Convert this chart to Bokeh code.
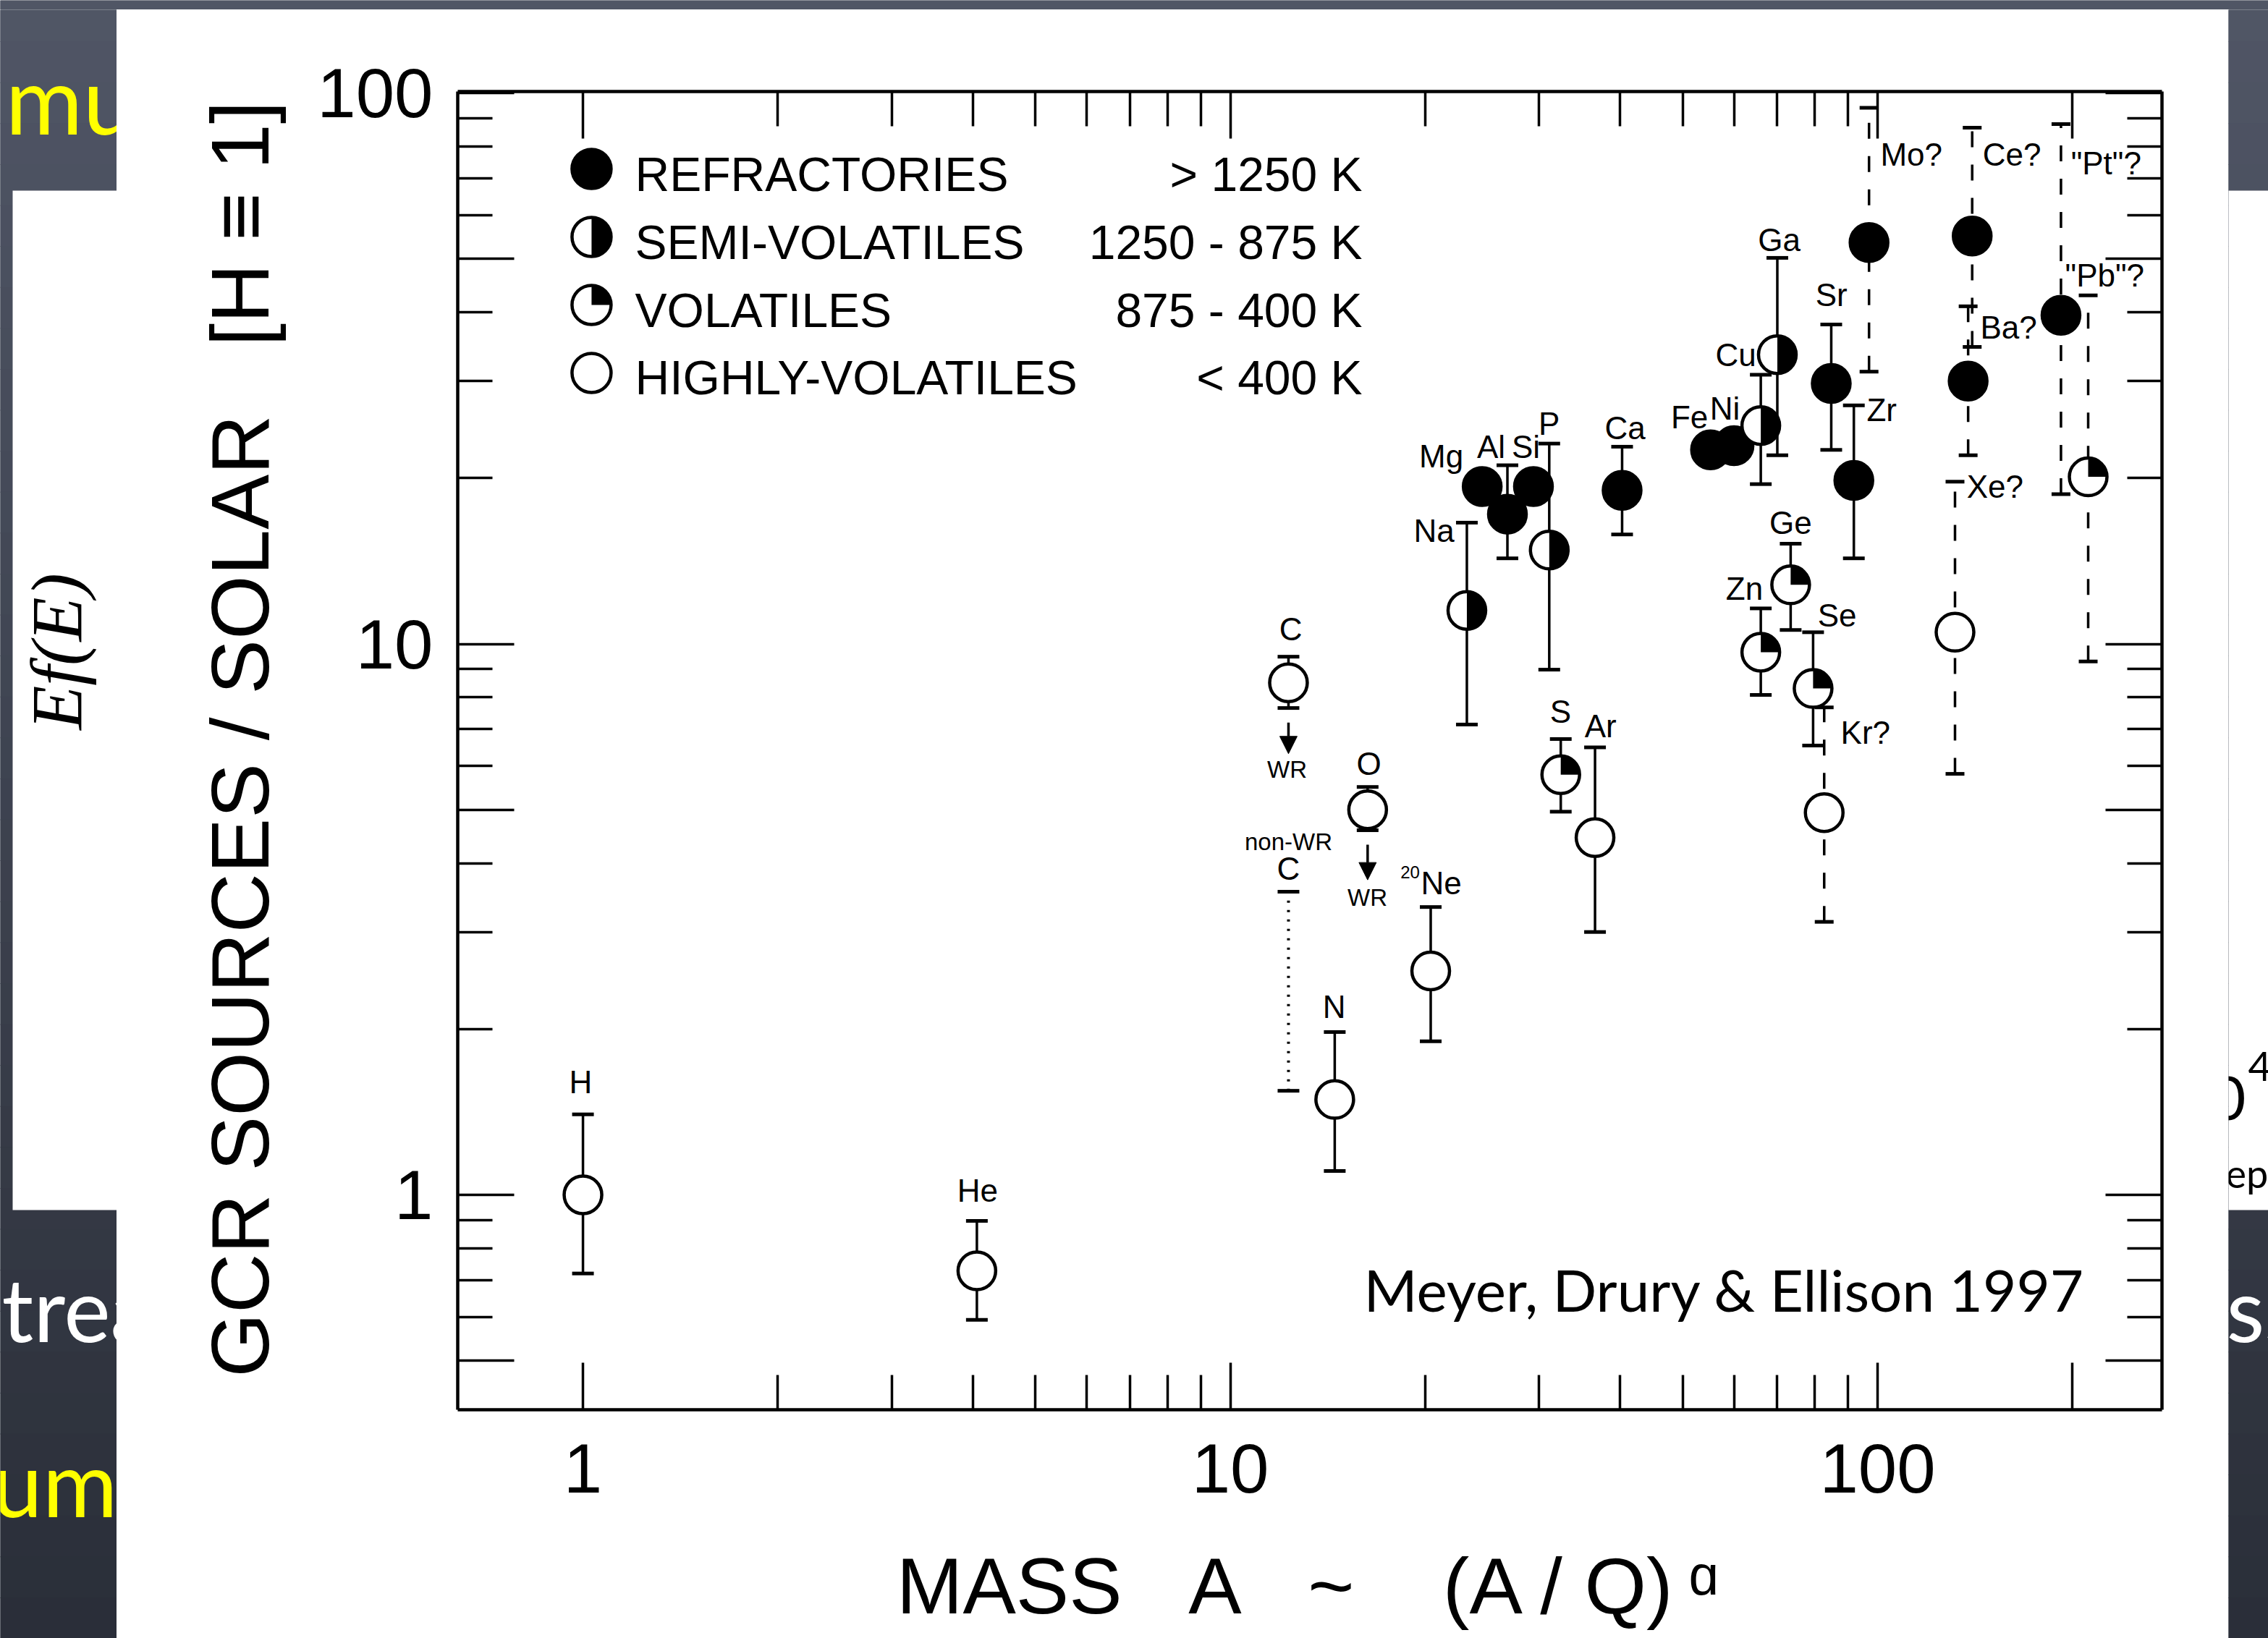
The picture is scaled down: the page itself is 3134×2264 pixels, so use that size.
import math
from bokeh.plotting import figure
from bokeh.layouts import column, row
from bokeh.models import (Plot, Range1d, LogAxis, FixedTicker, CustomJSTickFormatter,
                          Label, ColumnDataSource, Arrow, NormalHead)
from bokeh.embed import file_html
from bokeh.resources import INLINE
from bokeh.core.properties import value

nan = float("nan")

# ---------------- data ----------------
elements = ["H", "He", "C", "N", "O", "Ne", "Na", "Mg", "Al", "Si", "P", "S", "Ar", "Ca", "Fe", "Ni",
            "Cu", "Zn", "Ga", "Ge", "Se", "Kr", "Sr", "Zr", "Mo", "Xe", "Ba", "Ce", "Pt", "Pb"]
mass = [1.0, 4.06, 12.3, 14.5, 16.3, 20.4, 23.2, 24.5, 26.8, 29.4, 31.1, 32.4, 36.6, 40.3, 55.2, 60.0,
        66.0, 66.0, 70.0, 73.4, 79.5, 82.7, 84.8, 91.9, 97.0, 131.7, 138.0, 140.0, 192.0, 211.5]
ratio = [1.0, 0.728, 8.50, 1.49, 5.00, 2.55, 11.5, 19.3, 17.2, 19.3, 14.8, 5.79, 4.45, 19.0, 22.5, 22.9,
         24.9, 9.66, 33.5, 12.8, 8.30, 4.94, 29.7, 19.8, 53.5, 10.5, 30.0, 55.0, 39.5, 20.1]
err_lo = [0.72, 0.593, 7.65, 1.105, 4.59, 1.90, 7.14, nan, 14.3, nan, 8.98, 4.96, 3.0, 15.8, nan, nan,
          19.5, 8.08, 22.0, 10.6, 6.54, 3.13, 22.5, 14.3, 31.2, 5.81, 22.0, 34.6, 18.7, 9.29]
err_hi = [1.40, 0.897, 9.48, 1.975, 5.50, 3.33, 16.6, nan, 21.1, nan, 23.1, 6.72, 6.49, 22.8, nan, nan,
          30.8, 11.6, 50.2, 15.2, 10.5, 7.67, 38.0, 27.1, 94.0, 19.7, 41.0, 86.5, 87.8, 42.9]
volatility = ["hv", "hv", "hv", "hv", "hv", "hv", "semi", "ref", "ref", "ref", "semi", "vol", "hv", "ref",
              "ref", "ref", "semi", "vol", "semi", "vol", "vol", "hv", "ref", "ref", "ref", "hv", "ref",
              "ref", "ref", "vol"]
uncertain = [False] * 21 + [True, False, False, True, True, True, True, True, True]

# non-Wolf-Rayet carbon range (dotted bar, no point)
nonwr_mass = [12.3]
nonwr_lo = [1.545]
nonwr_hi = [3.55]

# Wolf-Rayet arrows under C and O
wr_mass = [12.3, 16.3]
wr_start = [7.20, 4.32]
wr_end = [6.32, 3.73]

# element labels (centred)
lab_c_text = ["H", "He", "C", "O", "N", "Na", "Mg", "Al", "Si", "P", "S", "Ar", "Ca", "Fe", "Ni",
              "Cu", "Ga", "Sr", "Ge", "Zn", "Se", "C", "Ne"]
lab_c_x = [0.992, 4.07, 12.40, 16.37, 14.47, 20.64, 21.18, 25.29, 28.62, 31.08, 32.38, 37.32, 40.73,
           51.21, 58.08, 60.38, 70.46, 84.84, 73.4, 62.27, 86.6, 12.30, 21.18]
lab_c_y = [1.603, 1.018, 10.64, 6.06, 2.195, 16.05, 21.92, 22.80, 22.80, 25.12, 7.54, 7.10, 24.66,
           25.80, 26.76, 33.46, 54.13, 43.01, 16.6, 12.60, 11.27, 3.911, 3.681]
# element labels (left aligned)
lab_l_text = ["Zr", "Mo?", "Ce?", "\"Pt\"?", "\"Pb\"?", "Ba?", "Xe?", "Kr?"]
lab_l_x = [96.2, 101.0, 145.3, 198.9, 194.8, 144.1, 137.3, 87.7]
lab_l_y = [26.6, 77.32, 77.32, 74.56, 46.67, 37.54, 19.30, 6.905]
# small annotations
lab_s_text = ["WR", "WR", "non-WR"]
lab_s_x = [12.24, 16.29, 12.30]
lab_s_y = [5.92, 3.465, 4.374]
iso_text = ["20"]
iso_x = [18.96]
iso_y = [3.853]

# legend
legend_labels = ["REFRACTORIES", "SEMI-VOLATILES", "VOLATILES", "HIGHLY-VOLATILES"]
legend_ranges = ["> 1250 K", "1250 - 875 K", "875 - 400 K", "< 400 K"]
legend_classes = ["ref", "semi", "vol", "hv"]
leg_marker_x = [1.031, 1.031, 1.031, 1.031]
leg_marker_y = [72.80, 54.79, 41.23, 31.03]
leg_text_x = [1.2036] * 4
leg_range_x = [16.0] * 4
leg_text_y = [71.06, 53.63, 40.36, 30.38]

# axes
x_major = [1, 10, 100, 200]
x_minor = [2, 3, 4, 5, 6, 7, 8, 9, 20, 30, 40, 50, 60, 70, 80, 90]
y_major = [0.5, 1, 5, 10, 50, 100]
y_minor = [0.6, 0.7, 0.8, 0.9, 2, 3, 4, 6, 7, 8, 9, 20, 30, 40, 60, 70, 80, 90]
tick_labels = ["1", "10", "100"]
x_title = "MASS\u00a0\u00a0\u00a0A\u00a0\u00a0\u00a0~\u00a0\u00a0\u00a0\u00a0(A / Q)\u2009\u1d45"
y_title = "\u00a0GCR SOURCES / SOLAR\u00a0\u00a0\u00a0[H \u2261 1]"

# ---------------- page geometry ----------------
W, H = 3134, 2264
PX0, PY0, PX1 = 161, 13, 3079          # front (chart) panel
FL, FR, FT, FB = 632, 2987, 126, 1948  # plot frame, page pixels
BACK_X0, BACK_Y0, BACK_Y1 = 17, 263, 1672   # back slide panel
NB = 40
top_rgb = (80, 86, 102)
bot_rgb = (42, 46, 56)
band_top = [i * H / NB for i in range(NB)]
band_bot = [(i + 1) * H / NB + 1 for i in range(NB)]
band_col = []
for i in range(NB):
    t = (i + 0.5) / NB
    c = tuple(round(a + (b - a) * t) for a, b in zip(top_rgb, bot_rgb))
    band_col.append("#%02x%02x%02x" % c)

FA = {"frame_align": False} if "frame_align" in Plot.properties() else {}


def slide_piece(x0, x1, y0, y1):
    f = figure(width=x1 - x0, height=y1 - y0, x_range=Range1d(x0, x1), y_range=Range1d(y1, y0),
               output_backend="svg", toolbar_location=None, min_border=0,
               x_axis_location=None, y_axis_location=None, outline_line_color=None,
               background_fill_color=band_col[0], border_fill_color=band_col[0], **FA)
    f.grid.visible = False
    f.quad(left=[x0 - 5] * NB, right=[x1 + 5] * NB, top=band_top, bottom=band_bot,
           fill_color=band_col, line_color=None)
    return f


def slide_text(f, x, y, text, size, color, align="left", font="Lato", style="normal", angle=0.0):
    # y is the text's middle line (about the centre of the capitals)
    f.text(x=[x], y=[y], text=[text], text_font=value(font), text_font_size=f"{size}px",
           text_color=color, text_align=align, text_baseline="middle",
           text_font_style=style, angle=angle)


# top strip
top_strip = slide_piece(0, W, 0, PY0)

# left strip: dark slide, piece of the back panel, clipped slide text
left_strip = slide_piece(0, PX0, PY0, H)
left_strip.quad(left=[BACK_X0], right=[PX0 + 5], top=[BACK_Y0], bottom=[BACK_Y1],
                fill_color="white", line_color=None)
slide_text(left_strip, 78, 900, "Ef(E)", 100, "black", align="center", font="Liberation Serif",
           style="italic", angle=math.pi / 2)
slide_text(left_strip, 7, 135, "mu", 130, "#ffff00")
slide_text(left_strip, 2, 1807, "trea", 122, "white")
slide_text(left_strip, -12, 2048, "um", 126, "#ffff00")

# right strip
right_strip = slide_piece(PX1, W, PY0, H)
right_strip.quad(left=[PX1 - 5], right=[W + 5], top=[BACK_Y0], bottom=[BACK_Y1],
                 fill_color="white", line_color=None)
slide_text(right_strip, 3103, 1517, "10", 83, "black", align="right")
slide_text(right_strip, 3106, 1473, "4", 56, "black")
slide_text(right_strip, 3075, 1621, "ep", 54, "black")
slide_text(right_strip, 3076, 1807, "ss", 122, "white")

# ---------------- chart figure ----------------
p = figure(width=PX1 - PX0, height=H - PY0, x_axis_type="log", y_axis_type="log",
           x_range=Range1d(0.6405, 275.0), y_range=Range1d(0.4074, 100.6),
           output_backend="svg", toolbar_location=None,
           min_border_left=FL - PX0, min_border_right=PX1 - FR,
           min_border_top=FT - PY0, min_border_bottom=H - FB,
           background_fill_color="white", border_fill_color="white",
           outline_line_color=None, **FA)
p.grid.visible = False

fmt_code = "const L = %s; const s = String(tick); return L.includes(s) ? s : '';" % (
    "[" + ",".join("'%s'" % s for s in tick_labels) + "]")


def style_axis(ax, major, minor, maj_len, min_len, labelled):
    ax.ticker = FixedTicker(ticks=major, minor_ticks=minor)
    ax.axis_line_color = "black"
    ax.axis_line_width = 4.5
    ax.major_tick_in = maj_len
    ax.major_tick_out = 0
    ax.minor_tick_in = min_len
    ax.minor_tick_out = 0
    ax.major_tick_line_width = 3.5
    ax.minor_tick_line_width = 3.5
    ax.major_tick_line_color = "black"
    ax.minor_tick_line_color = "black"
    if labelled:
        ax.formatter = CustomJSTickFormatter(code=fmt_code)
        ax.major_label_text_font = "Liberation Sans"
        ax.major_label_text_font_size = "96px"
        ax.major_label_text_color = "black"
        ax.axis_label_text_font = "Liberation Sans"
        ax.axis_label_text_font_style = "normal"
        ax.axis_label_text_color = "black"
    else:
        ax.formatter = CustomJSTickFormatter(code="return '';")
        ax.major_label_text_font_size = "1px"


xa = p.below[0]
style_axis(xa, x_major, x_minor, 65, 48, True)
xa.major_label_standoff = 47
xa.axis_label = x_title
xa.axis_label_text_font_size = "110px"
xa.axis_label_standoff = 64

ya = p.left[0]
style_axis(ya, y_major, y_minor, 78, 48, True)
ya.major_label_standoff = 34
ya.axis_label = y_title
ya.axis_label_text_font_size = "114px"
ya.axis_label_standoff = 40

top_ax = LogAxis()
style_axis(top_ax, x_major, x_minor, 65, 48, False)
p.add_layout(top_ax, "above")
right_ax = LogAxis()
style_axis(right_ax, y_major, y_minor, 78, 48, False)
p.add_layout(right_ax, "right")

# ---------------- error bars ----------------
have_err = [i for i in range(len(elements)) if not math.isnan(err_lo[i])]
solid_idx = [i for i in have_err if not uncertain[i]]
dash_idx = [i for i in have_err if uncertain[i]]


def sub(lst, idx):
    return [lst[i] for i in idx]


p.segment(x0=sub(mass, solid_idx), y0=sub(err_lo, solid_idx),
          x1=sub(mass, solid_idx), y1=sub(err_hi, solid_idx),
          line_color="black", line_width=3.5)
p.segment(x0=sub(mass, dash_idx), y0=sub(err_lo, dash_idx),
          x1=sub(mass, dash_idx), y1=sub(err_hi, dash_idx),
          line_color="black", line_width=3.5, line_dash="22 24")
p.segment(x0=nonwr_mass, y0=nonwr_lo, x1=nonwr_mass, y1=nonwr_hi,
          line_color="black", line_width=4, line_dash="3 10")

cap_x = sub(mass, solid_idx) * 2 + nonwr_mass * 2
cap_y = sub(err_lo, solid_idx) + sub(err_hi, solid_idx) + nonwr_lo + nonwr_hi
p.scatter(x=cap_x, y=cap_y, marker="dash", size=30, line_color="black", line_width=5)
p.scatter(x=sub(mass, dash_idx) * 2, y=sub(err_lo, dash_idx) + sub(err_hi, dash_idx),
          marker="dash", size=26, line_color="black", line_width=5)

# ---------------- markers ----------------
fill_of = {"ref": "black", "semi": "white", "vol": "white", "hv": "white"}
MS = 52
p.scatter(x=mass, y=ratio, marker="circle", size=MS,
          fill_color=[fill_of[v] for v in volatility], line_color="black", line_width=4.5)
semi_idx = [i for i, v in enumerate(volatility) if v == "semi"]
vol_idx = [i for i, v in enumerate(volatility) if v == "vol"]
p.wedge(x=sub(mass, semi_idx), y=sub(ratio, semi_idx), radius=MS / 2, radius_units="screen",
        start_angle=-math.pi / 2, end_angle=math.pi / 2, fill_color="black", line_color=None)
p.wedge(x=sub(mass, vol_idx), y=sub(ratio, vol_idx), radius=MS / 2, radius_units="screen",
        start_angle=0, end_angle=math.pi / 2, fill_color="black", line_color=None)

# WR arrows
p.add_layout(Arrow(end=NormalHead(size=24, fill_color="black", line_color="black", line_width=1),
                   x_start="x", y_start="y0", x_end="x", y_end="y1",
                   source=ColumnDataSource(dict(x=wr_mass, y0=wr_start, y1=wr_end)),
                   line_color="black", line_width=3.5))

# ---------------- element labels ----------------
p.text(x=lab_c_x, y=lab_c_y, text=lab_c_text, text_font=value("Liberation Sans"),
       text_font_size="44px", text_align="center", text_baseline="middle", text_color="black")
p.text(x=lab_l_x, y=lab_l_y, text=lab_l_text, text_font=value("Liberation Sans"),
       text_font_size="44px", text_align="left", text_baseline="middle", text_color="black")
p.text(x=lab_s_x, y=lab_s_y, text=lab_s_text, text_font=value("Liberation Sans"),
       text_font_size="33px", text_align="center", text_baseline="middle", text_color="black")
p.text(x=iso_x, y=iso_y, text=iso_text, text_font=value("Liberation Sans"),
       text_font_size="24px", text_align="center", text_baseline="middle", text_color="black")

# ---------------- legend ----------------
LMS = 54
p.scatter(x=leg_marker_x, y=leg_marker_y, marker="circle", size=LMS,
          fill_color=[fill_of[c] for c in legend_classes], line_color="black", line_width=4.5)
p.wedge(x=[leg_marker_x[1]], y=[leg_marker_y[1]], radius=LMS / 2, radius_units="screen",
        start_angle=-math.pi / 2, end_angle=math.pi / 2, fill_color="black", line_color=None)
p.wedge(x=[leg_marker_x[2]], y=[leg_marker_y[2]], radius=LMS / 2, radius_units="screen",
        start_angle=0, end_angle=math.pi / 2, fill_color="black", line_color=None)
p.text(x=leg_text_x, y=leg_text_y, text=legend_labels, text_font=value("Liberation Sans"),
       text_font_size="66px", text_align="left", text_baseline="middle", text_color="black")
p.text(x=leg_range_x, y=leg_text_y, text=legend_ranges, text_font=value("Liberation Sans"),
       text_font_size="66px", text_align="right", text_baseline="middle", text_color="black")

# citation (inside the frame)
p.add_layout(Label(x=1884 - FL, y=FB - 1781, x_units="screen", y_units="screen",
                   text="Meyer, Drury & Ellison 1997", text_font="Lato", text_font_size="80px",
                   text_color="black", text_baseline="middle"))

page = column(top_strip, row(left_strip, p, right_strip, spacing=0), spacing=0)

open("out.html", "w").write(file_html(page, INLINE))
